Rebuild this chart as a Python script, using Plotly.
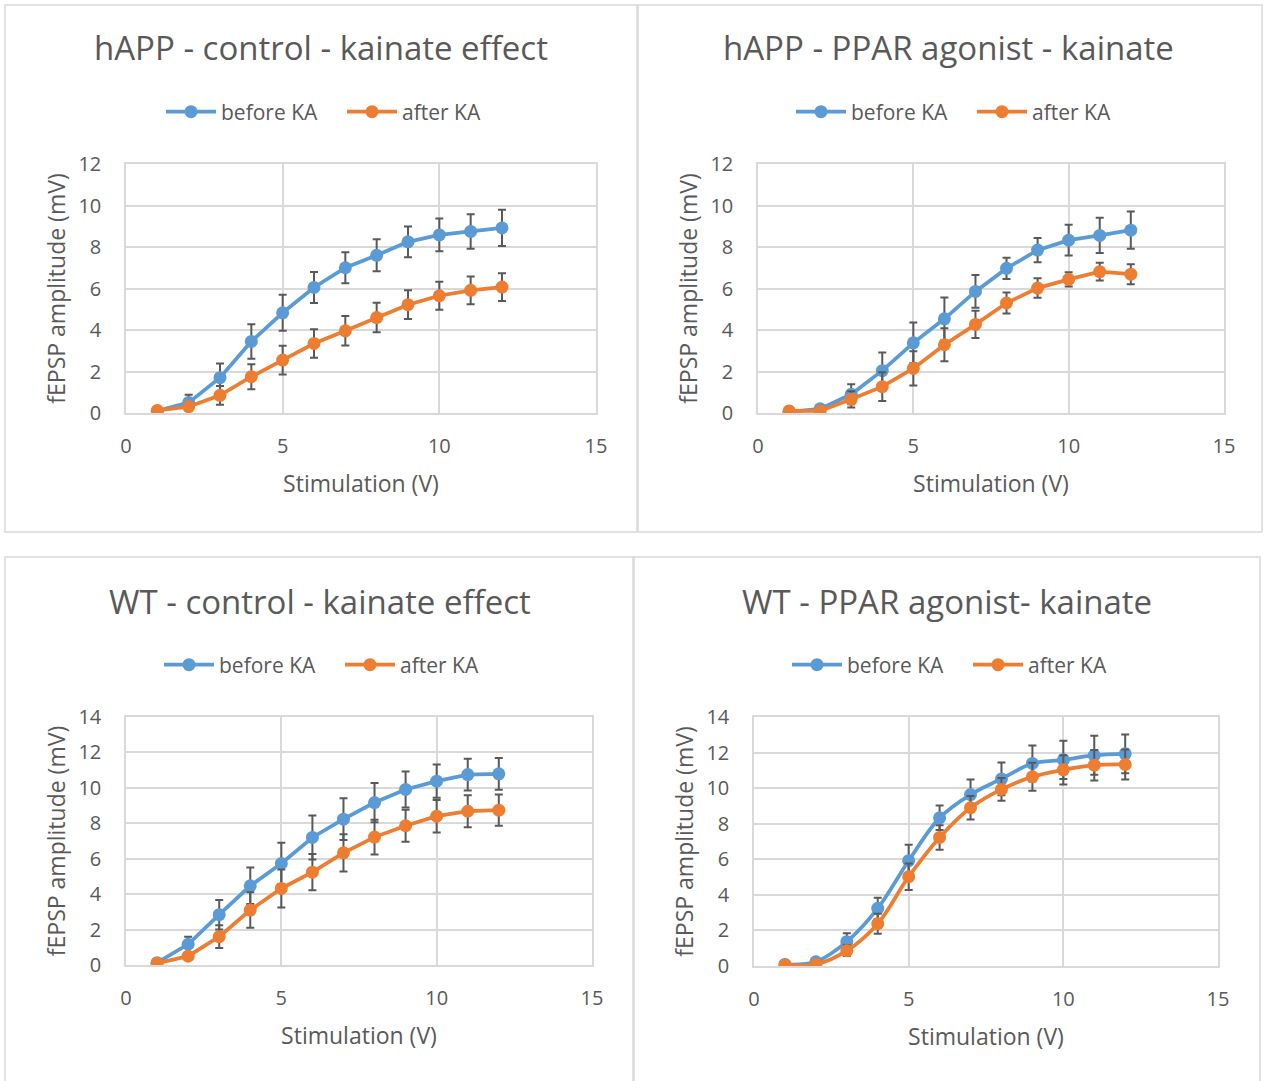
import plotly.graph_objects as go

W, H = 1266, 1081

volts = [1, 2, 3, 4, 5, 6, 7, 8, 9, 10, 11, 12]

titles = ["hAPP - control - kainate effect", "hAPP - PPAR agonist - kainate",
          "WT - control - kainate effect", "WT - PPAR agonist- kainate"]

happ_ctrl_before = [0.1, 0.5, 1.7, 3.45, 4.83, 6.05, 7.0, 7.6, 8.25, 8.58, 8.75, 8.92]
happ_ctrl_before_err = [0.05, 0.38, 0.69, 0.83, 0.87, 0.75, 0.75, 0.77, 0.74, 0.79, 0.83, 0.87]
happ_ctrl_after = [0.12, 0.3, 0.85, 1.75, 2.55, 3.35, 3.96, 4.6, 5.22, 5.65, 5.91, 6.07]
happ_ctrl_after_err = [0.05, 0.1, 0.45, 0.6, 0.69, 0.69, 0.71, 0.71, 0.69, 0.67, 0.67, 0.67]

happ_ppar_before = [0.05, 0.2, 0.9, 2.04, 3.38, 4.54, 5.86, 6.97, 7.85, 8.33, 8.56, 8.81]
happ_ppar_before_err = [0.03, 0.05, 0.48, 0.88, 0.98, 1.03, 0.79, 0.51, 0.58, 0.74, 0.85, 0.9]
happ_ppar_after = [0.1, 0.1, 0.66, 1.27, 2.15, 3.29, 4.27, 5.3, 6.02, 6.44, 6.81, 6.69]
happ_ppar_after_err = [0.03, 0.05, 0.39, 0.69, 0.82, 0.8, 0.66, 0.51, 0.47, 0.34, 0.43, 0.48]

wt_ctrl_before = [0.13, 1.17, 2.84, 4.47, 5.73, 7.2, 8.23, 9.17, 9.91, 10.38, 10.75, 10.79]
wt_ctrl_before_err = [0.05, 0.43, 0.83, 1.03, 1.17, 1.24, 1.18, 1.11, 1.02, 0.94, 0.9, 0.9]
wt_ctrl_after = [0.1, 0.5, 1.6, 3.1, 4.32, 5.24, 6.33, 7.22, 7.86, 8.4, 8.68, 8.74]
wt_ctrl_after_err = [0.05, 0.15, 0.64, 1.0, 1.07, 1.02, 1.05, 0.98, 0.9, 0.92, 0.9, 0.88]

wt_ppar_before = [0.09, 0.24, 1.37, 3.24, 5.92, 8.33, 9.64, 10.52, 11.39, 11.59, 11.85, 11.93]
wt_ppar_before_err = [0.03, 0.1, 0.47, 0.6, 0.9, 0.69, 0.84, 0.92, 1.01, 1.07, 1.1, 1.09]
wt_ppar_after = [0.06, 0.09, 0.86, 2.38, 5.02, 7.23, 8.9, 9.93, 10.64, 11.03, 11.29, 11.33]
wt_ppar_after_err = [0.03, 0.05, 0.3, 0.56, 0.75, 0.69, 0.66, 0.64, 0.79, 0.82, 0.86, 0.84]

series = [
    (happ_ctrl_before, happ_ctrl_before_err, happ_ctrl_after, happ_ctrl_after_err, 12, "linear"),
    (happ_ppar_before, happ_ppar_before_err, happ_ppar_after, happ_ppar_after_err, 12, "linear"),
    (wt_ctrl_before, wt_ctrl_before_err, wt_ctrl_after, wt_ctrl_after_err, 14, "linear"),
    (wt_ppar_before, wt_ppar_before_err, wt_ppar_after, wt_ppar_after_err, 14, "spline"),
]

# layout in pixels
panels = [
    dict(box=(5, 5, 637, 532), plot=(126, 596, 164, 413), title_x=321, title_y=48, legend_x=167, legend_y=112),
    dict(box=(638, 5, 1262, 532), plot=(758, 1224, 164, 413), title_x=948, title_y=48, legend_x=797, legend_y=112),
    dict(box=(5, 557, 633, 1085), plot=(126, 592, 717, 965), title_x=320, title_y=601, legend_x=165, legend_y=665),
    dict(box=(634, 557, 1260, 1085), plot=(754, 1218, 717, 966), title_x=947, title_y=601, legend_x=793, legend_y=665),
]

BLUE = "#5B9BD5"
ORANGE = "#ED7D31"
TXT = "#595959"
GRID = "#D9D9D9"
FONT = "Open Sans"

def px(x):
    return x / W

def py(y):
    return 1 - y / H

fig = go.Figure()
shapes = []
annotations = []
layout = {}

for i, (p, s) in enumerate(zip(panels, series)):
    k = "" if i == 0 else str(i + 1)
    before, berr, after, aerr, ymax, shape = s
    leg = "legend" + k
    for name, vals, errs, col in [("before KA", before, berr, BLUE), ("after KA", after, aerr, ORANGE)]:
        fig.add_trace(go.Scatter(
            x=volts, y=vals, name=name, mode="lines+markers",
            line=dict(color=col, width=3.75, shape=shape),
            marker=dict(color=col, size=13),
            error_y=dict(type="data", array=errs, visible=True, color="#595959", thickness=2, width=4),
            xaxis="x" + k, yaxis="y" + k, legend=leg,
        ))
    x0, x1, yt, yb = p["plot"]
    layout["xaxis" + k] = dict(
        domain=[px(x0), px(x1)], anchor="y" + k, range=[0, 15], dtick=5,
        showgrid=True, gridcolor=GRID, gridwidth=1.5, showline=True, linecolor=GRID, linewidth=1.5,
        mirror=True, zeroline=False, ticks="", ticklabelstandoff=14,
        tickfont=dict(family=FONT, size=20, color=TXT),
        title=dict(text="Stimulation (V)", font=dict(family=FONT, size=23, color=TXT), standoff=18),
        automargin=False, fixedrange=True,
    )
    layout["yaxis" + k] = dict(
        domain=[py(yb), py(yt)], anchor="x" + k, range=[0, ymax], dtick=2,
        showgrid=True, gridcolor=GRID, gridwidth=1.5, showline=True, linecolor=GRID, linewidth=1.5,
        mirror=True, zeroline=False, ticks="", ticklabelstandoff=19,
        tickfont=dict(family=FONT, size=20, color=TXT),
        title=dict(text="fEPSP amplitude (mV)", font=dict(family=FONT, size=23, color=TXT), standoff=6),
        automargin=False, fixedrange=True,
    )
    bx0, by0, bx1, by1 = p["box"]
    shapes.append(dict(type="rect", xref="paper", yref="paper",
                       x0=px(bx0), x1=px(bx1), y0=py(by1), y1=py(by0),
                       line=dict(color=GRID, width=1.5), layer="below"))
    annotations.append(dict(text=titles[i], xref="paper", yref="paper", x=px(p["title_x"]), y=py(p["title_y"]),
                            xanchor="center", yanchor="middle", showarrow=False,
                            font=dict(family=FONT, size=33, color=TXT)))
    layout[leg] = dict(orientation="h", x=px(p["legend_x"] - 6), y=py(p["legend_y"]), xanchor="left", yanchor="middle",
                       font=dict(family=FONT, size=21, color=TXT), bgcolor="rgba(0,0,0,0)",
                       itemwidth=50, tracegroupgap=0, entrywidth=116, entrywidthmode="pixels")

fig.update_layout(
    width=W, height=H, margin=dict(l=0, r=0, t=0, b=0),
    paper_bgcolor="white", plot_bgcolor="white",
    shapes=shapes, annotations=annotations, showlegend=True,
    **layout,
)

fig.write_html("out.html", config={"displayModeBar": False})
